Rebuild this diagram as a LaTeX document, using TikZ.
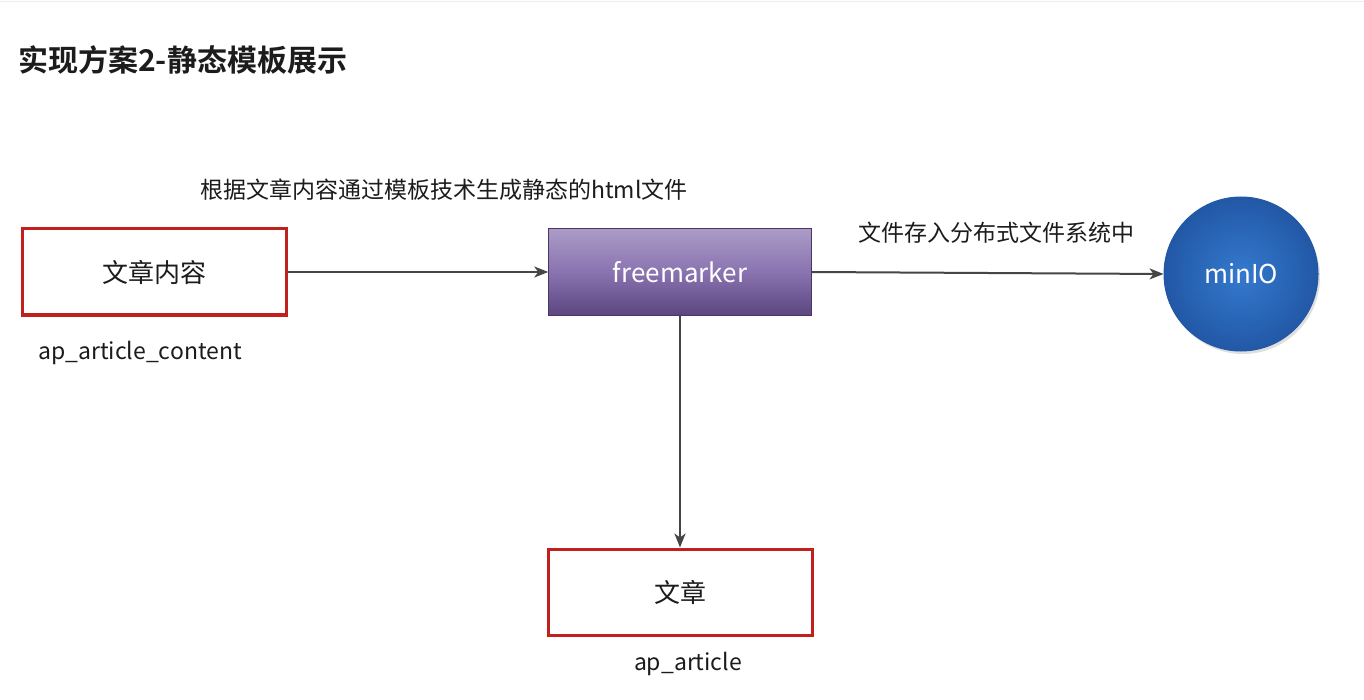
\documentclass[tikz,border=0pt]{standalone}
\usepackage{fontspec}
\setmainfont{Noto Sans CJK SC}
\newfontfamily\cjk{Noto Sans CJK SC}
\newfontfamily\cjkb{Noto Sans CJK SC Bold}
\usetikzlibrary{arrows.meta,shadows}
\definecolor{redb}{HTML}{C0211F}
\definecolor{arr}{HTML}{454545}
\definecolor{purtop}{HTML}{AA9CC6}
\definecolor{purmid}{HTML}{8A73B0}
\definecolor{purbot}{HTML}{5B4680}
\definecolor{bluec}{HTML}{3479CE}
\definecolor{blued}{HTML}{2258A6}
\definecolor{txt}{HTML}{1C1C1C}
\tikzset{
  redbox/.style={draw=redb, line width=3pt, minimum width=264pt, minimum height=86pt, fill=white, inner sep=0pt},
  conn/.style={draw=arr, line width=2pt, -{Stealth[length=14pt,width=11pt,inset=4pt]}},
  lbl/.style={text=txt, inner sep=0pt, font=\fontsize{23pt}{26pt}\selectfont},
}
\begin{document}
\begin{tikzpicture}[x=1pt,y=-1pt]
\useasboundingbox (0,0) rectangle (1364,700);
\fill[white] (0,0) rectangle (1364,700);
\draw[gray!15, line width=1pt] (0,2) -- (1364,2);
% title
\node[anchor=west, inner sep=0pt, text=txt, font=\cjkb\fontsize{30pt}{33pt}\selectfont] (title) at (18,60) {实现方案2-静态模板展示};
% boxes
\node[redbox, font=\fontsize{26pt}{30pt}\selectfont, text=txt] (content) at (154,272) {文章内容};
\node[lbl, anchor=west] (contentlbl) at (38,353) {ap\_article\_content};
\node[draw=purbot!80!black, line width=0.6pt, minimum width=263pt, minimum height=87pt, inner sep=0pt,
      top color=purtop, bottom color=purbot, middle color=purmid, text=white,
      font=\fontsize{26pt}{30pt}\selectfont] (fm) at (680,272) {freemarker};
\node[circle, minimum size=154pt, inner sep=0pt, draw=blued, line width=1pt,
      inner color=bluec, outer color=blued, text=white,
      drop shadow={shadow xshift=2pt, shadow yshift=-3pt, opacity=0.25},
      font=\fontsize{26pt}{30pt}\selectfont] (minio) at (1241,274) {minIO};
\node[redbox, font=\fontsize{26pt}{30pt}\selectfont, text=txt] (article) at (680,592) {文章};
\node[lbl] (articlelbl) at (688,664) {ap\_article};
% labels
\node[lbl, anchor=west] (toplbl) at (200,190) {根据文章内容通过模板技术生成静态的html文件};
\node[lbl, anchor=west] (storelbl) at (858,233) {文件存入分布式文件系统中};
% connectors
\draw[conn] (content.east) -- (fm.west);
\draw[conn] (fm.east) -- (minio.west);
\draw[conn] (fm.south) -- (article.north);
\end{tikzpicture}
\end{document}
